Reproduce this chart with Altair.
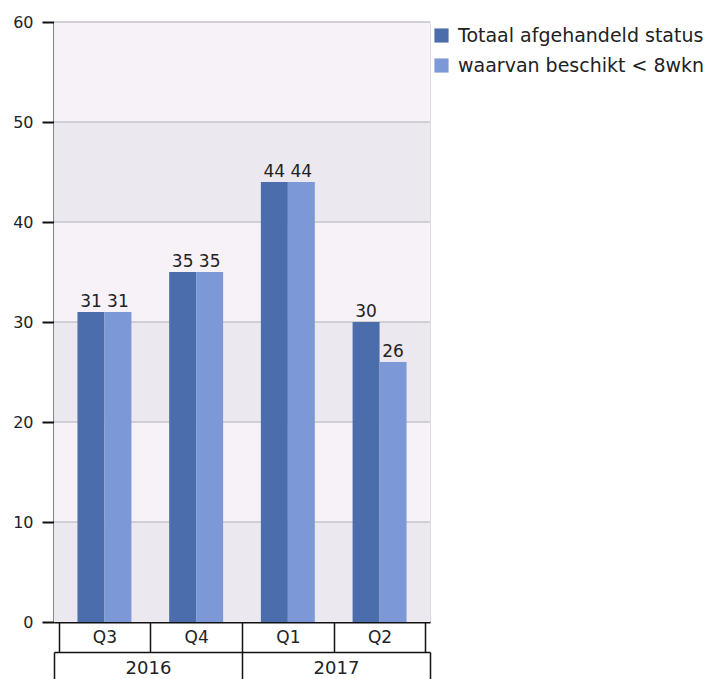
import altair as alt
import pandas as pd

quarters = ["Q3", "Q4", "Q1", "Q2"]
years = ["2016", "2016", "2017", "2017"]
series = ["Totaal afgehandeld status", "waarvan beschikt < 8wkn"]
totaal = [31, 35, 44, 30]
binnen8 = [31, 35, 44, 26]
y_ticks = [0, 10, 20, 30, 40, 50, 60]
colors = ["#4b6dab", "#7d98d6"]
band_colors = ["#ece8ef", "#f6f2f7"]

W, H = 376, 600
FONT = "DejaVu Sans"

cats = [f"{y} {q}" for y, q in zip(years, quarters)]
rows = []
for c, a, b in zip(cats, totaal, binnen8):
    rows.append({"cat": c, "serie": series[0], "val": a})
    rows.append({"cat": c, "serie": series[1], "val": b})
df = pd.DataFrame(rows)

bands = pd.DataFrame({
    "lo": y_ticks[:-1],
    "hi": y_ticks[1:],
    "col": [band_colors[i % 2] for i in range(len(y_ticks) - 1)],
})
grid = pd.DataFrame({"v": y_ticks[1:]})
yr = pd.DataFrame({"year": sorted(set(years))})

yscale = alt.Scale(domain=[0, 60])
xscale = alt.Scale(paddingInner=0, paddingOuter=0.05)
offscale = alt.Scale(paddingInner=0, paddingOuter=0.7)

band_layer = alt.Chart(bands).mark_rect().encode(
    x=alt.value(0), x2=alt.value(W),
    y=alt.Y("lo:Q", scale=yscale,
            axis=alt.Axis(values=y_ticks, grid=False, title=None, tickSize=12,
                          tickColor="#111", tickWidth=2, domainColor="#111",
                          domainWidth=2, labelFontSize=16, labelColor="#222",
                          labelPadding=9, labelFont=FONT)),
    y2="hi:Q",
    color=alt.Color("col:N", scale=None),
)

grid_layer = alt.Chart(grid).mark_rule(color="#c6c3c8", strokeWidth=1.5).encode(
    x=alt.value(0), x2=alt.value(W),
    y=alt.Y("v:Q", scale=yscale),
)

xaxis = alt.Axis(title=None, labelExpr="split(datum.label, ' ')[1]", tickBand="extent",
                 tickSize=30, tickColor="#111", tickWidth=1.5, domainColor="#111",
                 domainWidth=2, labelFontSize=17, labelColor="#222", labelPadding=-23,
                 labelAngle=0, labelFont=FONT)

bars = alt.Chart(df).mark_bar().encode(
    x=alt.X("cat:N", sort=cats, scale=xscale, axis=xaxis),
    xOffset=alt.XOffset("serie:N", sort=series, scale=offscale),
    y=alt.Y("val:Q", scale=yscale),
    color=alt.Color("serie:N", sort=series,
                    scale=alt.Scale(domain=series, range=colors),
                    legend=alt.Legend(title=None, orient="none", legendX=378, legendY=4,
                                      symbolType="square", symbolSize=200,
                                      symbolStrokeWidth=0, symbolOpacity=1,
                                      labelFontSize=19, labelColor="#222",
                                      labelFont=FONT, labelOffset=7,
                                      rowPadding=10, padding=0, labelLimit=400)),
)

labels = alt.Chart(df).mark_text(baseline="bottom", dy=-1, fontSize=17, color="#222",
                                 font=FONT).encode(
    x=alt.X("cat:N", sort=cats, scale=xscale),
    xOffset=alt.XOffset("serie:N", sort=series, scale=offscale),
    y=alt.Y("val:Q", scale=yscale),
    text="val:Q",
)

main = alt.layer(band_layer, grid_layer, bars, labels)

year_layer = alt.Chart(yr).mark_point(opacity=0).encode(
    x=alt.X("year:N", scale=alt.Scale(paddingInner=0, paddingOuter=0),
            axis=alt.Axis(orient="bottom", offset=30, title=None, tickBand="extent",
                          tickSize=27, tickColor="#111", tickWidth=1.5,
                          domainColor="#111", domainWidth=1.5, labelFontSize=18,
                          labelColor="#222", labelPadding=-20, labelAngle=0,
                          labelFont=FONT)),
    y=alt.value(H),
)

chart = alt.layer(main, year_layer).resolve_scale(x="independent").properties(
    width=W, height=H,
    autosize=alt.AutoSizeParams(type="none"),
    padding={"left": 46, "top": 14, "right": 284, "bottom": 70},
).configure_view(stroke=None).configure(background="white")

chart.save("out.html", embed_options={"renderer": "svg", "actions": False})
